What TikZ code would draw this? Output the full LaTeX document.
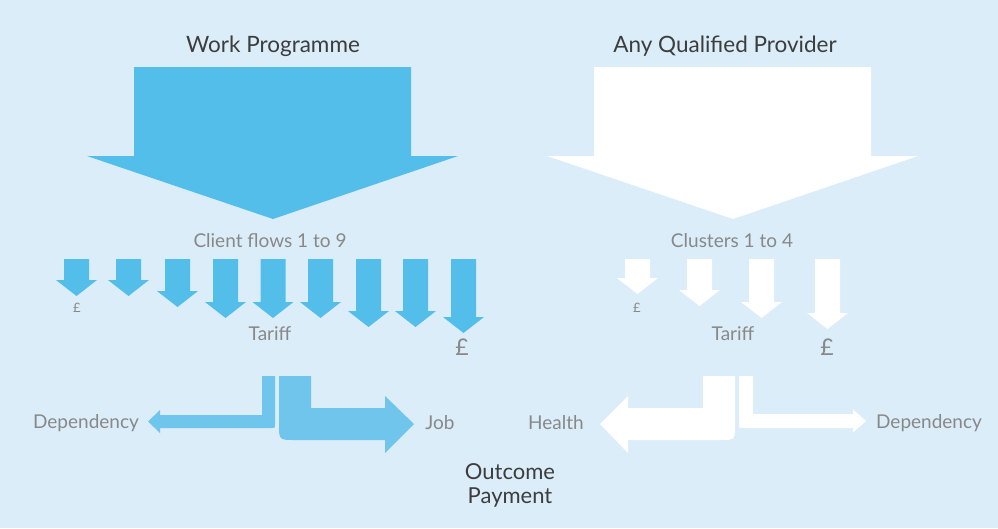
\documentclass[tikz,border=0pt]{standalone}
\usepackage{fontspec}
\setmainfont{Lato}
\usepackage{tikz}
\usetikzlibrary{positioning}

\definecolor{bgblue}{HTML}{DBEDF8}
\definecolor{wpblue}{HTML}{53BEEA}
\definecolor{bentblue}{HTML}{70C5EC}
\definecolor{lblgray}{HTML}{888888}
\definecolor{darkgray}{HTML}{3D3D3D}

\begin{document}
\begin{tikzpicture}[x=1pt,y=-1pt,
    title/.style={text=darkgray,font=\fontsize{22.5}{24}\selectfont},
    lbl/.style={text=lblgray,font=\fontsize{19}{21}\selectfont},
    pound/.style={text=lblgray,font=\fontsize{13}{14}\selectfont}]

      \fill[bgblue] (0,0) rectangle (998,528);

      % big arrows
      \fill[wpblue] (134,67) -- (411,67) -- (411,156) -- (458,156) --
      (273,219) -- (87,156) -- (134,156) -- cycle;
      \fill[white] (594,67) -- (871,67) -- (871,156) -- (918,156) --
      (733,219) -- (547,156) -- (594,156) -- cycle;

      \node[title] (wp) at (273,46) {Work Programme};
      \node[title] (aqp) at (725,46) {Any Qualified Provider};

      \node[lbl] (flows) at (270,241) {Client flows 1 to 9};
      \node[lbl] (clusters) at (732,241) {Clusters 1 to 4};

      % client flows
      \foreach \x/\b in {76.5/280,128.5/280,177.5/291,225.5/302,273/302,
                         320.5/302,368.5/311,415.5/311,463.5/317}
      \fill[wpblue] ({\x-12.5},259) -- ({\x+12.5},259) -- ({\x+12.5},\b) --
      ({\x+20.5},\b) -- (\x,{\b+16}) -- ({\x-20.5},\b) -- ({\x-12.5},\b) -- cycle;

      % clusters
      \foreach \x/\b in {637.5/278,699.5/290,761.5/302,827.5/313}
      \fill[white] ({\x-12.5},259) -- ({\x+12.5},259) -- ({\x+12.5},\b) --
      ({\x+20.5},\b) -- (\x,{\b+16}) -- ({\x-20.5},\b) -- ({\x-12.5},\b) -- cycle;

      \node[pound] (wplow) at (77,308) {£};
      \node[lbl] (wptariff) at (270,334) {Tariff};
      \node[pound,font=\fontsize{23}{24}\selectfont] (wphigh) at (462,347) {£};
      \node[pound] (aqplow) at (637,308) {£};
      \node[lbl] (aqptariff) at (733,334) {Tariff};
      \node[pound,font=\fontsize{23}{24}\selectfont] (aqphigh) at (827,347) {£};

      % outcome arrows
      \fill[bentblue] (262,376) -- (275,376) -- (275,424) .. controls (275,428) ..
      (271,428) -- (160,428) -- (160,433) -- (148,421.5) -- (160,410) --
      (160,415) -- (262,415) -- cycle;
      \fill[bentblue] (279,376) -- (311,376) -- (311,408) -- (385,408) --
      (385,396) -- (414,424) -- (385,453) -- (385,440) -- (295,440)
      .. controls (279,440) .. (279,424) -- cycle;
      \fill[white] (703,376) -- (735,376) -- (735,425) .. controls (735,440) ..
      (720,440) -- (628,440) -- (628,453) -- (600,424) -- (628,396) --
      (628,408) -- (703,408) -- cycle;
      \fill[white] (739,376) -- (753,376) -- (753,414) -- (853,414) --
      (853,409.5) -- (866,421) -- (853,432.5) -- (853,428) -- (743,428)
      .. controls (739,428) .. (739,424) -- cycle;

      \node[lbl] (wpdep) at (86,423) {Dependency};
      \node[lbl] (job) at (440,423) {Job};
      \node[lbl] (health) at (556,423) {Health};
      \node[lbl] (aqpdep) at (929,423) {Dependency};

      \node[title,align=center,font=\fontsize{22}{24}\selectfont] (outcome)
      at (510,485) {Outcome\\Payment};
\end{tikzpicture}
\end{document}
